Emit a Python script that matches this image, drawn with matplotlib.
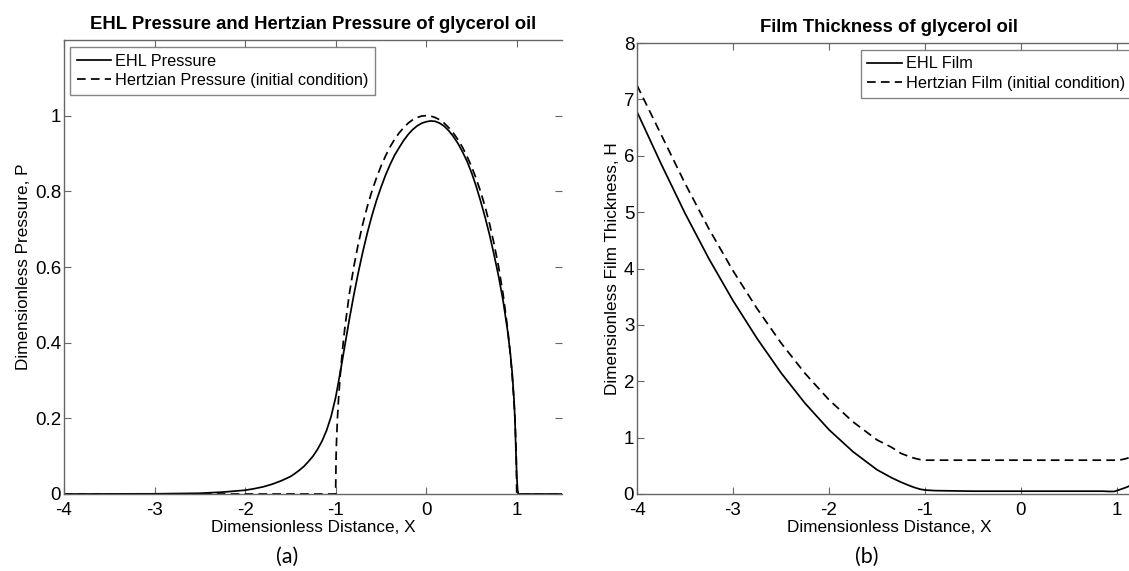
import matplotlib
matplotlib.use("Agg")
import matplotlib.pyplot as plt

plt.rcParams['font.family'] = ['Liberation Sans', 'DejaVu Sans']

# ---------------- data ----------------
# (a) pressure -- Hertzian (dashed)
x_hertz_p = [-4.0, -1.0, -1.0, -0.995, -0.99, -0.98, -0.97, -0.95, -0.925, -0.9, -0.85,
             -0.8, -0.75, -0.7, -0.65, -0.6, -0.55, -0.5, -0.45, -0.4, -0.35, -0.3,
             -0.25, -0.2, -0.15, -0.1, -0.05, 0.0, 0.05, 0.1, 0.15, 0.2, 0.25, 0.3,
             0.35, 0.4, 0.45, 0.5, 0.55, 0.6, 0.65, 0.7, 0.75, 0.8, 0.85, 0.9, 0.925,
             0.95, 0.97, 0.98, 0.99, 0.995, 1.0, 1.5]
p_hertz = [0.0, 0.0, 0.0, 0.10, 0.14, 0.20, 0.243, 0.312, 0.38, 0.436, 0.527,
           0.60, 0.661, 0.714, 0.76, 0.80, 0.835, 0.866, 0.893, 0.917, 0.937, 0.954,
           0.968, 0.98, 0.989, 0.995, 0.999, 1.0, 0.999, 0.995, 0.989, 0.98, 0.968, 0.954,
           0.937, 0.917, 0.893, 0.866, 0.835, 0.80, 0.76, 0.714, 0.661, 0.60, 0.527, 0.436,
           0.38, 0.312, 0.243, 0.20, 0.14, 0.10, 0.0, 0.0]

# (a) pressure -- EHL (solid)
x_ehl_p = [-4.0, -3.0, -2.5, -2.25, -2.0, -1.9, -1.8, -1.7, -1.6, -1.5, -1.45, -1.4,
           -1.35, -1.3, -1.25, -1.2, -1.15, -1.1, -1.05, -1.0, -0.95, -0.9, -0.85, -0.8,
           -0.75, -0.7, -0.65, -0.6, -0.55, -0.5, -0.45, -0.4, -0.35, -0.3, -0.25, -0.2,
           -0.15, -0.1, -0.05, 0.0, 0.05, 0.1, 0.15, 0.2, 0.25, 0.3, 0.35, 0.4, 0.45,
           0.5, 0.55, 0.6, 0.65, 0.7, 0.75, 0.8, 0.85, 0.9, 0.93, 0.95, 0.97, 0.98,
           0.99, 1.0, 1.01, 1.02, 1.5]
p_ehl = [0.0, 0.0005, 0.002, 0.005, 0.01, 0.014, 0.019, 0.026, 0.035, 0.046, 0.054, 0.063,
         0.073, 0.086, 0.10, 0.118, 0.14, 0.168, 0.205, 0.255, 0.32, 0.39, 0.46, 0.525,
         0.585, 0.64, 0.69, 0.735, 0.775, 0.81, 0.842, 0.87, 0.895, 0.915, 0.934, 0.95,
         0.963, 0.973, 0.98, 0.984, 0.986, 0.985, 0.98, 0.972, 0.96, 0.945, 0.927, 0.905, 0.88,
         0.85, 0.815, 0.775, 0.732, 0.685, 0.632, 0.575, 0.51, 0.43, 0.37, 0.32, 0.25, 0.20,
         0.12, 0.05, 0.01, 0.0, 0.0]

# (b) film thickness
x_film = [-4.0, -3.75, -3.5, -3.25, -3.0, -2.75, -2.5, -2.25, -2.0, -1.75, -1.5, -1.35,
          -1.25, -1.15, -1.1, -1.05, -1.0, -0.9, -0.5, 0.0, 0.5, 0.85, 0.92, 0.97,
          1.0, 1.05, 1.1, 1.15, 1.2]
h_hertz = [7.25, 6.38, 5.51, 4.70, 3.96, 3.29, 2.68, 2.14, 1.67, 1.28, 0.96, 0.83,
           0.72, 0.655, 0.63, 0.61, 0.60, 0.60, 0.60, 0.60, 0.60, 0.60, 0.60, 0.60,
           0.60, 0.61, 0.63, 0.66, 0.70]
h_ehl = [6.78, 5.86, 4.98, 4.17, 3.43, 2.76, 2.15, 1.61, 1.14, 0.75, 0.43, 0.29,
         0.21, 0.14, 0.11, 0.085, 0.07, 0.06, 0.05, 0.05, 0.05, 0.05, 0.045, 0.045,
         0.06, 0.09, 0.12, 0.16, 0.21]

legend_a = ["EHL Pressure", "Hertzian Pressure (initial condition)"]
legend_b = ["EHL Film", "Hertzian Film (initial condition)"]
title_a = "EHL Pressure and Hertzian Pressure of glycerol oil"
title_b = "Film Thickness of glycerol oil"
xlabel = "Dimensionless Distance, X"
ylabel_a = "Dimensionless Pressure, P"
ylabel_b = "Dimensionless Film Thickness, H"
xticks = [-4, -3, -2, -1, 0, 1]
yticks_a = [0, 0.2, 0.4, 0.6, 0.8, 1.0]
yticks_a_lbl = ["0", "0.2", "0.4", "0.6", "0.8", "1"]
yticks_b = [0, 1, 2, 3, 4, 5, 6, 7, 8]

# ---------------- layout ----------------
W, H = 1129, 571
fig = plt.figure(figsize=(W / 100, H / 100), dpi=100)

def ax_at(x0, y0, x1, y1):
    return fig.add_axes([x0 / W, 1 - y1 / H, (x1 - x0) / W, (y1 - y0) / H])

spine_col = "#666666"
tick_fs = 13.5
lab_fs = 12.3
title_fs = 13.3
leg_fs = 11.7

def style(ax, y0, y1):
    for s in ax.spines.values():
        s.set_color(spine_col)
        s.set_linewidth(1.0)
    ax.tick_params(direction="in", top=True, right=True, length=5, width=0.8,
                   colors=spine_col, labelcolor="black", labelsize=tick_fs)
    ax.tick_params(axis="x", pad=6)
    ax.tick_params(axis="y", pad=2)
    # x label: top edge about 520 px from figure top
    ax.xaxis.set_label_coords(0.5, -(520 - y1) / (y1 - y0))

def legend(ax, x_frac, y0, y1):
    leg = ax.legend(loc="upper left", bbox_to_anchor=(x_frac, 1 - 7 / (y1 - y0)),
                    fontsize=leg_fs, frameon=True, fancybox=False, edgecolor=spine_col,
                    handlelength=2.1, handletextpad=0.25, borderpad=0.4,
                    labelspacing=0.28, borderaxespad=0)
    leg.get_frame().set_linewidth(1.0)
    return leg

# (a)
A = (64, 40, 562, 494)
axA = ax_at(*A)
axA.plot(x_ehl_p, p_ehl, "k-", lw=1.25, label=legend_a[0])
axA.plot(x_hertz_p, p_hertz, "k--", lw=1.25, dashes=(5, 3), label=legend_a[1])
axA.set_xlim(-4, 1.5)
axA.set_ylim(0, 1.2)
axA.set_xticks(xticks)
axA.set_xticklabels([str(t) for t in xticks])
axA.set_yticks(yticks_a)
axA.set_yticklabels(yticks_a_lbl)
style(axA, A[1], A[3])
axA.spines["right"].set_visible(False)
axA.set_xlabel(xlabel, fontsize=lab_fs)
axA.set_ylabel(ylabel_a, fontsize=lab_fs, labelpad=3)
axA.set_title(title_a, fontsize=title_fs, fontweight="bold", pad=8)
legend(axA, (70 - A[0]) / (A[2] - A[0]), A[1], A[3])

# (b)
B = (637, 43, 1141, 494)
axB = ax_at(*B)
axB.plot(x_film, h_ehl, "k-", lw=1.25, label=legend_b[0])
axB.plot(x_film, h_hertz, "k--", lw=1.25, dashes=(5, 3), label=legend_b[1])
axB.set_xlim(-4, 1.25)
axB.set_ylim(0, 8)
axB.set_xticks(xticks)
axB.set_xticklabels([str(t) for t in xticks])
axB.set_yticks(yticks_b)
style(axB, B[1], B[3])
axB.spines["right"].set_visible(False)
axB.tick_params(right=False)
axB.set_xlabel(xlabel, fontsize=lab_fs)
axB.set_ylabel(ylabel_b, fontsize=lab_fs, labelpad=3)
axB.set_title(title_b, fontsize=title_fs, fontweight="bold", pad=8)
legend(axB, (861 - B[0]) / (B[2] - B[0]), B[1], B[3])

fig.text(287 / W, 1 - 557 / H, "(a)", fontsize=15.5, family=["Lato", "DejaVu Sans"],
         ha="center", va="center")
fig.text(867 / W, 1 - 557 / H, "(b)", fontsize=15.5, family=["Lato", "DejaVu Sans"],
         ha="center", va="center")

fig.savefig("out.png", dpi=100)
